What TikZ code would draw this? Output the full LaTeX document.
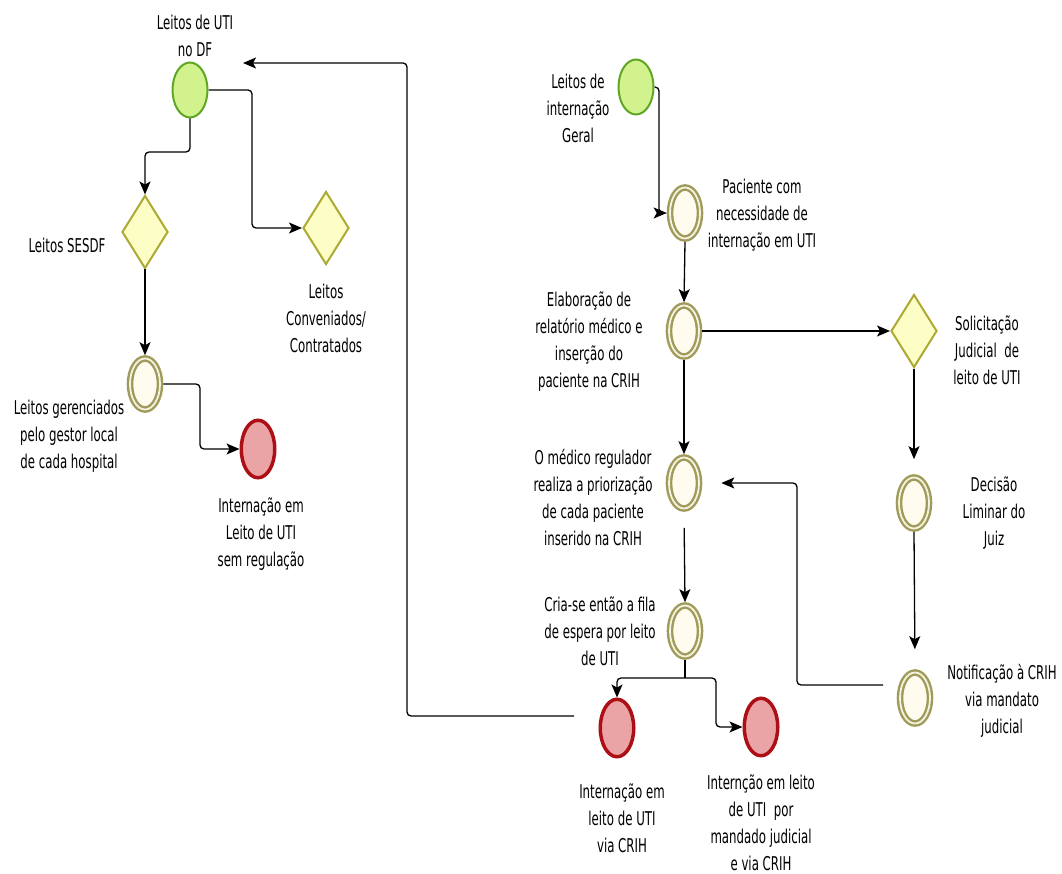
\documentclass[tikz,border=0pt]{standalone}
\usepackage{fontspec}
\setmainfont{DejaVu Sans}[FakeStretch=0.62]
\usetikzlibrary{arrows.meta,shapes.geometric,calc}
\definecolor{startfill}{HTML}{D2F28E}
\definecolor{startdraw}{HTML}{5FA624}
\definecolor{gwfill}{HTML}{FDFDC6}
\definecolor{gwdraw}{HTML}{ADAA34}
\definecolor{imfill}{HTML}{FFFBEE}
\definecolor{imdraw}{HTML}{A09B5A}
\definecolor{imgap}{HTML}{F4F2E0}
\definecolor{endfill}{HTML}{EBA4A6}
\definecolor{enddraw}{HTML}{AC1016}
\tikzset{
  startev/.style={ellipse, draw=startdraw, fill=startfill, line width=2pt, minimum width=35pt, minimum height=55pt, inner sep=0pt},
  gw/.style={diamond, draw=gwdraw, fill=gwfill, line width=2pt, minimum width=46pt, minimum height=73pt, inner sep=0pt},
  imev/.style={ellipse, draw=imdraw, fill=imfill, line width=2.4pt, double=imgap, double distance=1.8pt, minimum width=30pt, minimum height=51pt, inner sep=0pt, outer sep=3.3pt},
  endev/.style={ellipse, draw=enddraw, fill=endfill, line width=3.5pt, minimum width=33.5pt, minimum height=57.5pt, inner sep=0pt},
  conn/.style={line width=1.3pt, rounded corners=4pt, -{Stealth[length=13pt,width=11pt,inset=3pt]}},
  lbl/.style={align=center, inner sep=0pt, font=\fontsize{19}{27}\selectfont}
}
\begin{document}
\begin{tikzpicture}[x=1pt,y=-1pt]
\useasboundingbox (0,0) rectangle (1062,874);
% events and gateways
\node[startev] (s1) at (190,90) {};
\node[gw] (g1) at (145,232) {};
\node[gw] (g2) at (326,228) {};
\node[imev] (i1) at (145,384) {};
\node[endev] (e1) at (258,449) {};
\node[startev] (s2) at (636,87) {};
\node[imev] (i2) at (685,213) {};
\node[imev] (i3) at (684,331) {};
\node[gw] (g3) at (914,331) {};
\node[imev] (i4) at (684,483) {};
\node[imev] (i5) at (914,503) {};
\node[imev] (i6) at (685,631) {};
\node[imev] (i7) at (915,698) {};
\node[endev] (e2) at (617,728) {};
\node[endev] (e3) at (761,727) {};
% labels
\node[lbl] (t1) at (195,36) {Leitos de UTI\\no DF};
\node[lbl] (t2) at (67,245) {Leitos SESDF};
\node[lbl] (t3) at (326,318) {Leitos\\Conveniados/\\Contratados};
\node[lbl] (t4) at (69,436) {Leitos gerenciados\\pelo gestor local\\de cada hospital};
\node[lbl] (t5) at (261,534) {Internação em\\Leito de UTI\\sem regulação};
\node[lbl] (t6) at (578,108) {Leitos de\\internação\\Geral};
\node[lbl] (t7) at (762,215) {Paciente com\\necessidade de\\internação em UTI};
\node[lbl] (t8) at (589,342) {Elaboração de\\relatório médico e\\inserção do\\paciente na CRIH};
\node[lbl] (t9) at (987,350) {Solicitação\\Judicial~ de\\leito de UTI};
\node[lbl] (t10) at (593,498) {O médico regulador\\realiza a priorização\\de cada paciente\\inserido na CRIH};
\node[lbl] (t11) at (994,513) {Decisão\\Liminar do\\Juiz};
\node[lbl] (t12) at (600,631) {Cria-se então a fila\\de espera por leito\\de UTI};
\node[lbl] (t13) at (1002,701) {Notificação à CRIH\\via mandato\\judicial};
\node[lbl] (t14) at (622,818) {Internação em\\leito de UTI\\via CRIH};
\node[lbl] (t15) at (761,823) {Internção em leito\\de UTI~ por\\mandado judicial\\e via CRIH};
% free ends
\coordinate (loopstart) at (574,716);
\coordinate (loopend) at (243,63);
\coordinate (split) at (685,678);
\coordinate (notifstart) at (883,685);
% connectors
\draw[conn] (s1.south) -- (190,152) -- (145,152) -- (g1.north);
\draw[conn] (s1.east) -- (252,90) -- (252,228) -- (g2.west);
\draw[conn] (g1.south) -- (i1.north);
\draw[conn] (i1.east) -- (200,384) -- (200,449) -- (e1.west);
\draw[conn] (loopstart) -- (407,716) -- (407,63) -- (loopend);
\draw[conn] (s2.east) -- (659,87) -- (659,213) -- (i2.west);
\draw[conn] (i2.south) -- (i3.north);
\draw[conn] (i3.east) -- (g3.west);
\draw[conn] (i3.south) -- (i4.north);
\draw[conn,shorten >=15pt] (g3.south) -- (i5.north);
\draw[conn,shorten >=20pt] (i5.south) -- (i7.north);
\draw[conn,shorten >=19pt] (notifstart) -- (797,685) -- (797,483) -- (i4.east);
\draw[conn,shorten <=16pt] (i4.south) -- (i6.north);
\draw[line width=1.3pt] (i6.south) -- (split);
\draw[conn] (split) -- (617,678) -- (e2.north);
\draw[conn] (split) -- (716,678) -- (716,727) -- (e3.west);
\end{tikzpicture}
\end{document}
